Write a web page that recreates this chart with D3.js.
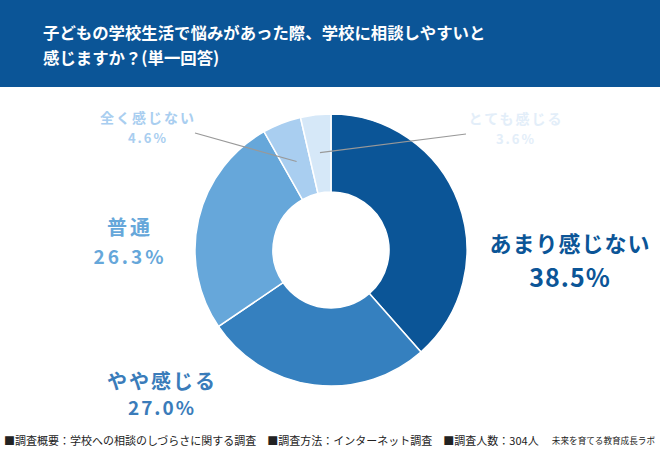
<!DOCTYPE html>
<html lang="ja">
<head>
    <meta charset="UTF-8">
    <title>学校への相談のしやすさ</title>
    <script src="https://d3js.org/d3.v7.min.js"></script>
    <style>
        body { margin: 0; background: #fff; font-family: "Noto Sans CJK JP", "Noto Sans", sans-serif; }
    </style>
</head>
<body>
    <svg id="chart" width="660" height="450"></svg>
    <script>
        // Data
        const categories = ["あまり感じない", "やや感じる", "普通", "全く感じない", "とても感じる"];
        const values = [38.5, 27.0, 26.3, 4.6, 3.6];
        const colors = ["#0b5597", "#3580bf", "#66a7da", "#a9cef0", "#d6e8f8"];
        const titleLines = ["子どもの学校生活で悩みがあった際、学校に相談しやすいと", "感じますか？(単一回答)"];
        const footNote = "■調査概要：学校への相談のしづらさに関する調査　■調査方法：インターネット調査　■調査人数：304人";
        const credit = "未来を育てる教育成長ラボ";

        const width = 660, height = 450;
        const svg = d3.select("#chart");

        // Header band
        svg.append("rect").attr("x", 0).attr("y", 0).attr("width", width).attr("height", 87)
            .attr("fill", "#0b5597");
        svg.selectAll("text.title").data(titleLines).enter().append("text")
            .attr("class", "title")
            .attr("x", 43).attr("y", (d, i) => 39 + i * 25)
            .attr("fill", "#fff").attr("font-size", 16.4).attr("font-weight", "bold")
            .text(d => d);

        // Donut
        const cx = 331, cy = 250, outerR = 136, innerR = 58;
        const g = svg.append("g").attr("transform", `translate(${cx},${cy})`);
        const pie = d3.pie().sort(null).value(d => d);
        const arcs = pie(values);
        const arc = d3.arc().innerRadius(innerR).outerRadius(outerR);

        g.selectAll("path").data(arcs).enter().append("path")
            .attr("d", arc)
            .attr("fill", (d, i) => colors[i])
            .attr("stroke", "#fff").attr("stroke-width", 1.5);

        // label placement per slice
        const labelPos = [
            { x: 570, y: 252, fs1: 22, fs2: 25, dy: 35, ls: 1 },
            { x: 162, y: 389, fs1: 20, fs2: 19, dy: 26, ls: 2 },
            { x: 130, y: 235, fs1: 20, fs2: 19, dy: 29, ls: 3 },
            { x: 148, y: 123, fs1: 14, fs2: 13, dy: 20, ls: 2 },
            { x: 516, y: 124, fs1: 14, fs2: 13, dy: 20, ls: 2 }
        ];
        const labelColors = ["#0b5597", "#3a7cba", "#66a7da", "#a9cef0", "#e3eef9"];

        // Leader lines for the two small slices
        const leader = [
            { from: [195, 133], r: 95 },
            { from: [466, 134], r: 98 }
        ];
        [3, 4].forEach((idx, k) => {
            const mid = (arcs[idx].startAngle + arcs[idx].endAngle) / 2;
            const tx = cx + leader[k].r * Math.sin(mid);
            const ty = cy - leader[k].r * Math.cos(mid);
            svg.append("line")
                .attr("x1", leader[k].from[0]).attr("y1", leader[k].from[1])
                .attr("x2", tx).attr("y2", ty)
                .attr("stroke", "#999").attr("stroke-width", 1.2);
        });

        categories.forEach((c, i) => {
            const p = labelPos[i];
            svg.append("text").attr("text-anchor", "middle")
                .attr("x", p.x).attr("y", p.y)
                .attr("fill", labelColors[i]).attr("font-weight", "bold")
                .attr("letter-spacing", p.ls).attr("font-size", p.fs1)
                .text(c);
            svg.append("text").attr("text-anchor", "middle")
                .attr("x", p.x).attr("y", p.y + p.dy)
                .attr("fill", labelColors[i]).attr("font-weight", "bold")
                .attr("letter-spacing", p.ls).attr("font-size", p.fs2)
                .text(values[i].toFixed(1) + "%");
        });

        // Footer
        svg.append("text").attr("x", 4).attr("y", 445)
            .attr("font-size", 11).attr("fill", "#222").text(footNote);
        svg.append("text").attr("x", 655).attr("y", 444).attr("text-anchor", "end")
            .attr("font-size", 8.6).attr("fill", "#222").text(credit);
    </script>
</body>
</html>
